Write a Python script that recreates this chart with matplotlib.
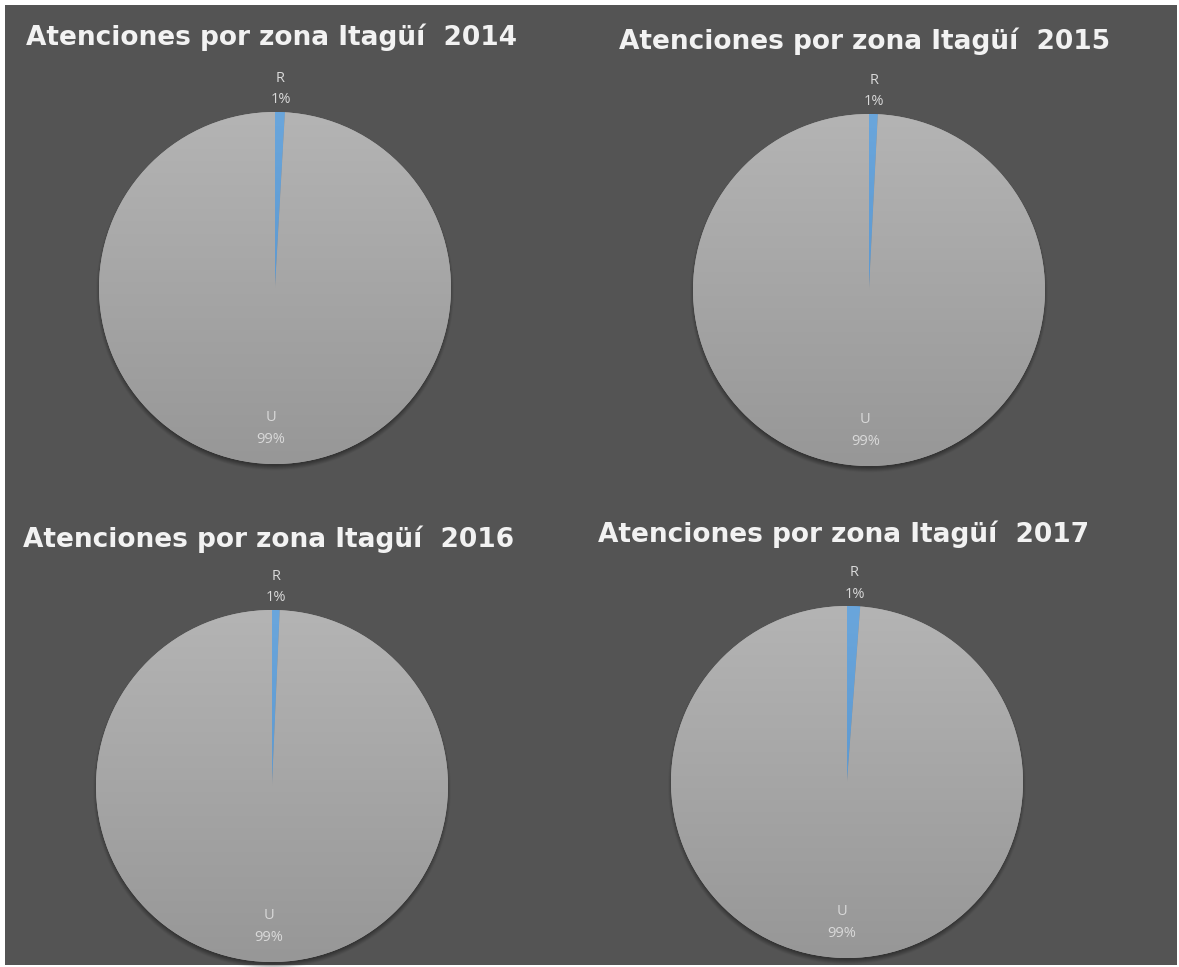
import numpy as np
import matplotlib
matplotlib.use('Agg')
import matplotlib.pyplot as plt
from matplotlib.patches import Rectangle

# Atenciones por zona (porcentaje rural / urbano) por año
years = ['2014', '2015', '2016', '2017']
zones = ['R', 'U']
rural_pct = [0.9, 0.8, 0.7, 1.2]
urban_pct = [99.1, 99.2, 99.3, 98.8]

W, H = 1179, 967
BG = '#545454'
LABEL_COLOR = '#d9d9d9'
TITLE_COLOR = '#f2f2f2'

# pie centers / radius and title baselines in pixels (origin top-left)
pie_centers = [(275, 288), (869, 290), (272, 786), (847, 782)]
pie_radius = 176
title_pos = [(26, 45), (619, 49), (23, 547), (598, 542)]

plt.rcParams['font.family'] = ['Open Sans', 'DejaVu Sans']

fig = plt.figure(figsize=(W / 100, H / 100), dpi=100)
fig.patch.set_facecolor('white')
fig.patches.append(Rectangle((5 / W, 2 / H), (W - 7) / W, (H - 7) / H,
                             transform=fig.transFigure, facecolor=BG,
                             edgecolor='none', zorder=-5))


def gradient(top, bottom, n=256):
    top = np.array(matplotlib.colors.to_rgb(top))
    bottom = np.array(matplotlib.colors.to_rgb(bottom))
    t = np.linspace(0, 1, n)[:, None]
    g = top * (1 - t) + bottom * t
    return g[:, None, :]


def shadow_image(n=500, span=1.3, dy=0.02, r=1.018, blur=0.03):
    xs = np.linspace(-span, span, n)
    xx, yy = np.meshgrid(xs, xs[::-1])
    d = np.sqrt(xx ** 2 + (yy + dy) ** 2)
    a = np.clip((r - d) / blur, 0, 1) * 0.6
    img = np.zeros((n, n, 4))
    img[..., :3] = 0.12
    img[..., 3] = a
    return img


shadow = shadow_image()
fills = [('#6aa6dc', '#4f8cc6'), ('#b4b4b4', '#979797')]

for i, year in enumerate(years):
    cx, cy = pie_centers[i]
    span = 1.3
    size = 2 * span * pie_radius
    ax = fig.add_axes([(cx - size / 2) / W, 1 - (cy + size / 2) / H,
                       size / W, size / H])
    ax.patch.set_alpha(0)
    ax.axis('off')

    ax.imshow(shadow, extent=(-span, span, -span, span), zorder=1,
              interpolation='bilinear')

    values = [rural_pct[i], urban_pct[i]]
    wedges, _ = ax.pie(values, startangle=90, counterclock=False,
                       radius=1, colors=['#5b9bd5', '#a6a6a6'],
                       wedgeprops=dict(linewidth=0))
    ax.set_xlim(-span, span)
    ax.set_ylim(-span, span)
    ax.set_aspect('equal')
    for w, (c_top, c_bot) in zip(wedges, fills):
        w.set_zorder(2)
        im = ax.imshow(gradient(c_top, c_bot), extent=(-1, 1, -1, 1),
                       aspect='auto', zorder=3, interpolation='bilinear')
        im.set_clip_path(w)

    total = sum(values)
    for w, zone, v in zip(wedges, zones, values):
        ang = np.deg2rad((w.theta1 + w.theta2) / 2)
        dist = 1.13 if zone == 'R' else 0.8
        ax.text(dist * np.cos(ang), dist * np.sin(ang),
                f'{zone}\n{100 * v / total:.0f}%', ha='center', va='center',
                color=LABEL_COLOR, fontsize=10.5, linespacing=1.6, zorder=5)

    tx, ty = title_pos[i]
    fig.text(tx / W, 1 - ty / H, f'Atenciones por zona Itagüí  {year}',
             ha='left', va='baseline', color=TITLE_COLOR, fontsize=19,
             fontweight='bold', family=['DejaVu Sans'])

fig.savefig('out.png', dpi=100, facecolor=fig.get_facecolor())
